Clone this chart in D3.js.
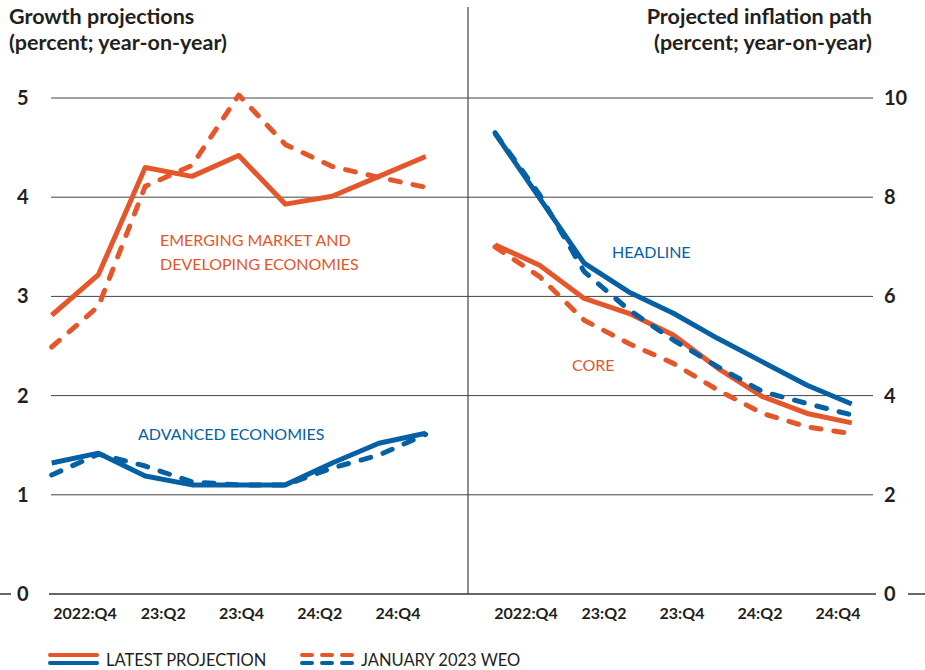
<!DOCTYPE html>
<html>
<head>
<meta charset="utf-8">
<script src="https://cdn.jsdelivr.net/npm/d3@7"></script>
<style>
  body { margin: 0; background: #fff; }
  text { font-family: Lato, "Open Sans", sans-serif; }
</style>
</head>
<body>
<div id="chart"></div>
<script>
// quarters 2022:Q4 .. 2024:Q4
const quarters = ["2022:Q4", "2023:Q1", "2023:Q2", "2023:Q3", "2023:Q4", "2024:Q1", "2024:Q2", "2024:Q3", "2024:Q4"];
const tickLabels = ["2022:Q4", "23:Q2", "23:Q4", "24:Q2", "24:Q4"];

// growth projections (left)
const emdeLatest = [2.81, 3.22, 4.30, 4.21, 4.42, 3.93, 4.01, 4.21, 4.41];
const emdeJan = [2.49, 2.90, 4.11, 4.32, 5.03, 4.53, 4.31, 4.20, 4.10];
const aeLatest = [1.32, 1.42, 1.19, 1.10, 1.10, 1.10, 1.32, 1.52, 1.62];
const aeJan = [1.20, 1.41, 1.29, 1.13, 1.10, 1.10, 1.27, 1.40, 1.61];

// inflation path (right)
const headlineLatest = [9.29, 7.98, 6.67, 6.09, 5.66, 5.15, 4.68, 4.21, 3.83];
const headlineJan = [9.30, 8.05, 6.50, 5.73, 5.12, 4.58, 4.08, 3.84, 3.61];
const coreLatest = [7.04, 6.63, 5.96, 5.66, 5.22, 4.55, 3.98, 3.64, 3.45];
const coreJan = [7.00, 6.40, 5.52, 5.05, 4.65, 4.11, 3.64, 3.37, 3.23];

const leftTicks = [0, 1, 2, 3, 4, 5];
const rightTicks = [0, 2, 4, 6, 8, 10];

const orange = "#E4572A";
const blue = "#0560A4";
const ink = "#231f20";

const width = 925, height = 670;
const svg = d3.select("#chart").append("svg")
    .attr("width", width)
    .attr("height", height);

const yL = d3.scaleLinear().domain([0, 5]).range([594, 98]);
const yR = d3.scaleLinear().domain([0, 10]).range([594, 98]);
const xL = d3.scalePoint().domain(quarters).range([51.7, 425.7]);
const xR = d3.scalePoint().domain(quarters).range([495, 851.7]);
const xLabL = d3.scalePoint().domain(tickLabels).range([85, 398]);
const xLabR = d3.scalePoint().domain(tickLabels).range([526, 838]);

// gridlines
svg.append("g").selectAll("line")
    .data(leftTicks.filter(d => d > 0))
    .join("line")
    .attr("x1", 51).attr("x2", 468)
    .attr("y1", d => yL(d)).attr("y2", d => yL(d))
    .attr("stroke", "#444").attr("stroke-width", 1);

svg.append("g").selectAll("line")
    .data(rightTicks.filter(d => d > 0))
    .join("line")
    .attr("x1", 468).attr("x2", 873)
    .attr("y1", d => yR(d)).attr("y2", d => yR(d))
    .attr("stroke", "#444").attr("stroke-width", 1);

// zero line, with gaps for the labels
svg.append("line")
    .attr("x1", 0).attr("x2", width)
    .attr("y1", yL(0)).attr("y2", yL(0))
    .attr("stroke", "#333").attr("stroke-width", 1.5);
svg.append("rect").attr("x", 11).attr("y", yL(0) - 10).attr("width", 38).attr("height", 20).attr("fill", "#fff");
svg.append("rect").attr("x", 876).attr("y", yR(0) - 10).attr("width", 32).attr("height", 20).attr("fill", "#fff");

// divider
svg.append("line")
    .attr("x1", 468).attr("x2", 468)
    .attr("y1", 7).attr("y2", yL(0))
    .attr("stroke", "#444").attr("stroke-width", 1.2);

// y tick labels
svg.append("g").selectAll("text")
    .data(leftTicks)
    .join("text")
    .attr("x", 17)
    .attr("y", d => yL(d))
    .attr("dy", "0.35em")
    .attr("fill", ink)
    .style("font-size", "20px")
    .style("font-weight", 700)
    .text(d => d);

svg.append("g").selectAll("text")
    .data(rightTicks)
    .join("text")
    .attr("x", 884)
    .attr("y", d => yR(d))
    .attr("dy", "0.35em")
    .attr("fill", ink)
    .style("font-size", "20px")
    .style("font-weight", 700)
    .text(d => d);

// x tick labels
[xLabL, xLabR].forEach(sc => {
    svg.append("g").selectAll("text")
        .data(tickLabels)
        .join("text")
        .attr("x", d => sc(d))
        .attr("y", 619)
        .attr("text-anchor", "middle")
        .attr("fill", ink)
        .style("font-size", "16px")
        .style("font-weight", 700)
        .text(d => d);
});

// titles
const titleL = svg.append("text").attr("fill", ink).style("font-size", "21.5px").style("font-weight", 700);
titleL.append("tspan").attr("x", 9).attr("y", 24).text("Growth projections");
titleL.append("tspan").attr("x", 9).attr("y", 50).text("(percent; year-on-year)");

const titleR = svg.append("text").attr("fill", ink).attr("text-anchor", "end").style("font-size", "21.5px").style("font-weight", 700);
titleR.append("tspan").attr("x", 872).attr("y", 24).text("Projected inflation path");
titleR.append("tspan").attr("x", 872).attr("y", 50).text("(percent; year-on-year)");

// lines
function drawLine(values, x, y, color, dashed) {
    const line = d3.line()
        .x((d, i) => x(quarters[i]))
        .y(d => y(d));
    svg.append("path")
        .datum(values)
        .attr("d", line)
        .attr("fill", "none")
        .attr("stroke", color)
        .attr("stroke-width", 5)
        .attr("stroke-linecap", dashed ? "round" : "butt")
        .attr("stroke-linejoin", "round")
        .attr("stroke-dasharray", dashed ? "10,13" : null);
}

drawLine(emdeJan, xL, yL, orange, true);
drawLine(emdeLatest, xL, yL, orange, false);
drawLine(aeJan, xL, yL, blue, true);
drawLine(aeLatest, xL, yL, blue, false);

drawLine(coreJan, xR, yR, orange, true);
drawLine(coreLatest, xR, yR, orange, false);
drawLine(headlineJan, xR, yR, blue, true);
drawLine(headlineLatest, xR, yR, blue, false);

// annotations
function note(x, y, lines, color) {
    const t = svg.append("text").attr("fill", color).style("font-size", "16px").style("font-weight", 400);
    lines.forEach((s, i) => t.append("tspan").attr("x", x).attr("y", y + i * 24).text(s));
}
note(160, 246, ["EMERGING MARKET AND", "DEVELOPING ECONOMIES"], orange);
note(138, 440, ["ADVANCED ECONOMIES"], blue);
note(612, 258, ["HEADLINE"], blue);
note(572, 371, ["CORE"], orange);

// legend
const legend = svg.append("g");
[[50, 97, false, 106, "LATEST PROJECTION"], [300, 356, true, 361, "JANUARY 2023 WEO"]].forEach(([x0, x1, dashed, tx, label]) => {
    [[655, orange], [663, blue]].forEach(([ly, c]) => {
        legend.append("line")
            .attr("x1", dashed ? x0 + 2 : x0).attr("x2", dashed ? x1 - 2 : x1)
            .attr("y1", ly).attr("y2", ly)
            .attr("stroke", c)
            .attr("stroke-width", 4)
            .attr("stroke-linecap", "round")
            .attr("stroke-dasharray", dashed ? "10,10" : null);
    });
    legend.append("text")
        .attr("x", tx).attr("y", 660)
        .attr("dy", "0.35em")
        .attr("fill", ink)
        .style("font-size", "16.5px")
        .style("font-weight", 400)
        .text(label);
});
</script>
</body>
</html>
